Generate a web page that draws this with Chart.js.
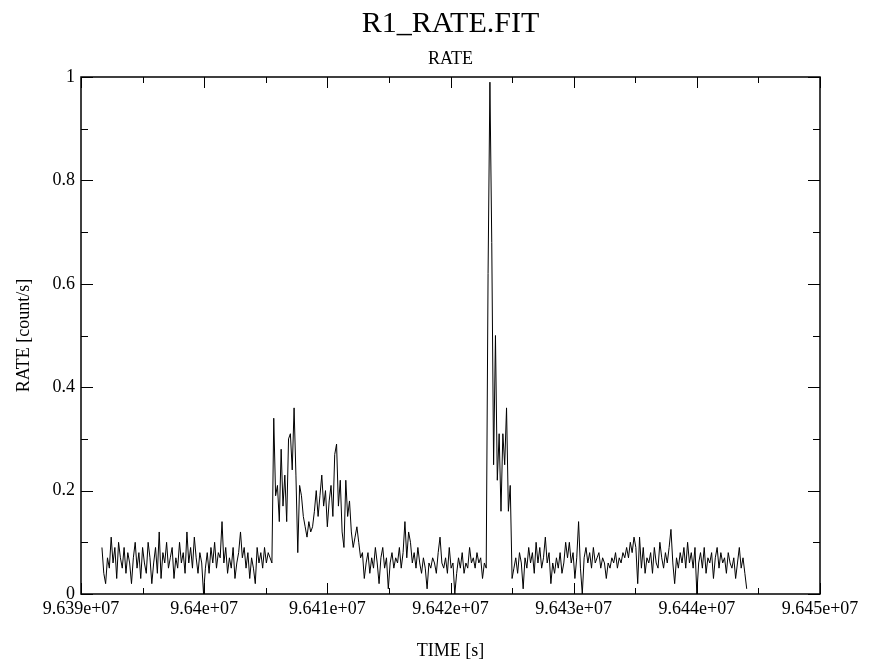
<!DOCTYPE html>
<html>
<head>
<meta charset="utf-8">
<style>
  html, body { margin: 0; padding: 0; background: #fff; }
  canvas { display: block; }
</style>
<script src="https://cdn.jsdelivr.net/npm/chart.js@4.4.0/dist/chart.umd.min.js"></script>
</head>
<body>
<canvas id="rateChart" width="870" height="665"></canvas>
<script>
// light curve bins: time of first bin and bin width [s]
var binStart = 96391700;
var binSize = 150;

// RATE [count/s], one value per bin, split by the parts of the curve
var quietA = [
  0.09, 0.04, 0.02, 0.07, 0.05, 0.11, 0.06, 0.09, 0.03, 0.10,
  0.07, 0.05, 0.09, 0.04, 0.08, 0.06, 0.02, 0.07, 0.10, 0.05,
  0.08, 0.03, 0.09, 0.06, 0.04, 0.10, 0.07, 0.02, 0.06, 0.09,
  0.04, 0.12, 0.03, 0.08, 0.06, 0.10, 0.05, 0.07, 0.09, 0.03,
  0.07, 0.05, 0.10, 0.06, 0.08, 0.04, 0.12, 0.06, 0.09, 0.05,
  0.11, 0.07, 0.04, 0.08, 0.06, 0.00, 0.05, 0.08, 0.04, 0.09,
  0.06, 0.10, 0.05, 0.08, 0.07, 0.14, 0.06, 0.09, 0.04, 0.07,
  0.05, 0.09, 0.03, 0.06, 0.08, 0.12, 0.07, 0.09, 0.05, 0.08,
  0.03, 0.07, 0.05, 0.02, 0.09, 0.06, 0.08, 0.05, 0.09, 0.06,
  0.08, 0.07, 0.06
];
var flareA = [
  0.34, 0.19, 0.21, 0.14, 0.28, 0.17, 0.23, 0.14, 0.30, 0.31,
  0.24, 0.36, 0.23, 0.08, 0.21, 0.19, 0.15, 0.13, 0.11, 0.14,
  0.12, 0.13, 0.16, 0.20, 0.15, 0.19, 0.23, 0.17, 0.20, 0.13,
  0.18, 0.21, 0.15, 0.27, 0.29, 0.17, 0.22, 0.12, 0.09, 0.22,
  0.15, 0.18, 0.12, 0.09, 0.11, 0.13, 0.10, 0.07, 0.08, 0.03
];
var quietB = [
  0.06, 0.08, 0.04, 0.07, 0.05, 0.09, 0.06, 0.02, 0.07, 0.09,
  0.05, 0.07, 0.01, 0.06, 0.08, 0.05, 0.07, 0.06, 0.09, 0.05,
  0.08, 0.14, 0.07, 0.12, 0.10, 0.06, 0.08, 0.05, 0.09, 0.06,
  0.04, 0.07, 0.05, 0.01, 0.06, 0.05, 0.07, 0.06, 0.04, 0.08,
  0.11, 0.06, 0.05, 0.07, 0.04, 0.09, 0.05, 0.06, 0.00, 0.04,
  0.07, 0.05, 0.08, 0.04, 0.06, 0.05, 0.09, 0.06, 0.07, 0.05,
  0.08, 0.06, 0.07, 0.03, 0.06
];
var burst = [
  0.05, 0.62, 0.99, 0.68, 0.25, 0.50, 0.22, 0.31, 0.16, 0.31,
  0.25, 0.36, 0.16, 0.21, 0.03
];
var quietC = [
  0.05, 0.07, 0.04, 0.08, 0.06, 0.01, 0.07, 0.05, 0.09, 0.06,
  0.08, 0.04, 0.10, 0.06, 0.09, 0.05, 0.07, 0.11, 0.06, 0.08,
  0.02, 0.06, 0.04, 0.07, 0.05, 0.08, 0.04, 0.06, 0.10, 0.07,
  0.10, 0.06, 0.08, 0.03, 0.07, 0.14, 0.05, 0.00, 0.07, 0.09,
  0.06, 0.08, 0.05, 0.09, 0.06, 0.07, 0.08, 0.05, 0.07, 0.06,
  0.03, 0.06, 0.05, 0.07, 0.06, 0.08, 0.05, 0.07, 0.06, 0.08,
  0.07, 0.09, 0.07, 0.10, 0.08, 0.11, 0.09, 0.02, 0.11, 0.05,
  0.09, 0.04, 0.07, 0.06, 0.08, 0.04, 0.09, 0.06, 0.05, 0.10,
  0.07, 0.05, 0.08, 0.06, 0.09, 0.125, 0.06, 0.02, 0.07, 0.05,
  0.08, 0.06, 0.09, 0.05, 0.10, 0.06, 0.08, 0.05, 0.09, 0.00,
  0.06, 0.08, 0.05, 0.09, 0.04, 0.07, 0.06, 0.08, 0.03, 0.07,
  0.09, 0.05, 0.08, 0.06, 0.07, 0.04, 0.08, 0.06, 0.05, 0.07,
  0.03, 0.06, 0.09, 0.05, 0.07, 0.04, 0.01
];

var xMin = 96390000, xMax = 96450000, xStep = 10000;
var yMin = 0, yMax = 1, yStep = 0.2;

var serif = '"Liberation Serif", "Times New Roman", serif';

var rates = quietA.concat(flareA, quietB, burst, quietC);
var points = [];
rates.forEach(function(r, i) {
  points.push({ x: binStart + i * binSize, y: r });
});

function expLabel(v) {
  return Number(v).toExponential().replace(/e\+(\d)$/, 'e+0$1');
}

// frame, inward ticks on all four sides, titles
var framePlugin = {
  id: 'frame',
  afterDraw: function(chart) {
    var ctx = chart.ctx, a = chart.chartArea;
    var xs = chart.scales.x, ys = chart.scales.y;
    ctx.save();
    ctx.strokeStyle = '#000';
    ctx.lineWidth = 1.5;
    ctx.strokeRect(a.left, a.top, a.right - a.left, a.bottom - a.top);

    ctx.lineWidth = 1;
    ctx.beginPath();
    for (var t = xMin; t <= xMax; t += xStep / 2) {
      var px = Math.round(xs.getPixelForValue(t)) + 0.5;
      var len = ((t - xMin) % xStep === 0) ? 11 : 6;
      ctx.moveTo(px, a.bottom); ctx.lineTo(px, a.bottom - len);
      ctx.moveTo(px, a.top); ctx.lineTo(px, a.top + len);
    }
    for (var k = 0; k <= 10; k++) {
      var py = Math.round(ys.getPixelForValue(yMin + k * 0.1)) + 0.5;
      var ylen = (k % 2 === 0) ? 12 : 7;
      ctx.moveTo(a.left, py); ctx.lineTo(a.left + ylen, py);
      ctx.moveTo(a.right, py); ctx.lineTo(a.right - ylen, py);
    }
    ctx.stroke();

    var cx = (a.left + a.right) / 2;
    ctx.fillStyle = '#000';
    ctx.textAlign = 'center';
    ctx.textBaseline = 'alphabetic';
    ctx.font = '30px ' + serif;
    ctx.fillText('R1_RATE.FIT', cx, 32);
    ctx.font = '18px ' + serif;
    ctx.fillText('RATE', cx, 64);
    ctx.fillText('TIME [s]', cx, 656);

    ctx.translate(29, (a.top + a.bottom) / 2);
    ctx.rotate(-Math.PI / 2);
    ctx.fillText('RATE [count/s]', 0, 0);
    ctx.restore();
  }
};

var ctx = document.getElementById('rateChart').getContext('2d');
var chart = new Chart(ctx, {
  type: 'line',
  data: {
    datasets: [{
      label: 'RATE',
      data: points,
      borderColor: '#000',
      borderWidth: 1,
      pointRadius: 0,
      tension: 0,
      fill: false
    }]
  },
  options: {
    responsive: false,
    animation: false,
    parsing: false,
    layout: { padding: { top: 77, right: 50, left: 0, bottom: 0 } },
    plugins: {
      legend: { display: false },
      tooltip: { enabled: false }
    },
    scales: {
      x: {
        type: 'linear',
        min: xMin,
        max: xMax,
        grid: { display: false, drawTicks: false },
        border: { display: false },
        ticks: {
          stepSize: xStep,
          padding: 4,
          color: '#000',
          maxRotation: 0,
          autoSkip: false,
          font: { family: serif, size: 18 },
          callback: function(v) { return expLabel(v); }
        },
        afterFit: function(scale) { scale.height = 71; }
      },
      y: {
        min: yMin,
        max: yMax,
        grid: { display: false, drawTicks: false },
        border: { display: false },
        ticks: {
          stepSize: yStep,
          padding: 6,
          color: '#000',
          font: { family: serif, size: 18 },
          callback: function(v) { return String(+Number(v).toFixed(1)); }
        },
        afterFit: function(scale) { scale.width = 81; }
      }
    }
  },
  plugins: [framePlugin]
});
</script>
</body>
</html>
